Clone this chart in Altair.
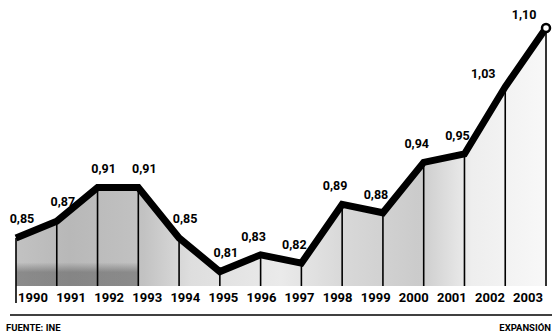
import altair as alt
import pandas as pd

# Annual series 1990-2003
years = [1990, 1991, 1992, 1993, 1994, 1995, 1996, 1997, 1998, 1999, 2000, 2001, 2002, 2003]
values = [0.85, 0.87, 0.91, 0.91, 0.85, 0.81, 0.83, 0.82, 0.89, 0.88, 0.94, 0.95, 1.03, 1.10]
year_labels = [str(y) for y in years]
value_labels = [f"{v:.2f}".replace(".", ",") for v in values]
source_note = "FUENTE: INE"
brand_note = "EXPANSIÓN"

df = pd.DataFrame({"year": years, "value": values, "label": value_labels, "ylabel": year_labels})

W, H = 552, 336
FONT = "Roboto"
Y_DOMAIN = [0.733333, 1.133333]
# value sitting on the pixel row where the shaded area and drop lines end
BASE_VALUE = Y_DOMAIN[0] + (H - 286) / H * (Y_DOMAIN[1] - Y_DOMAIN[0])

x_pts = alt.X("year:Q", axis=None, scale=alt.Scale(domain=[1989.6076, 2003.147], nice=False, zero=False))
x_lab = alt.X("year:Q", axis=None, scale=alt.Scale(domain=[1989.1333, 2003.630], nice=False, zero=False))
y = alt.Y("value:Q", axis=None, scale=alt.Scale(domain=Y_DOMAIN, nice=False, zero=False))
y_base = alt.Y2(datum=BASE_VALUE)

base = alt.Chart(df)

fill_grad = alt.Gradient(
    gradient="linear", x1=0, y1=0, x2=1, y2=0,
    stops=[
        alt.GradientStop(offset=0.00, color="#c2c2c2"),
        alt.GradientStop(offset=0.10, color="#b8b8b8"),
        alt.GradientStop(offset=0.24, color="#c2c2c2"),
        alt.GradientStop(offset=0.33, color="#dedede"),
        alt.GradientStop(offset=0.50, color="#eaeaea"),
        alt.GradientStop(offset=0.62, color="#d8d8d8"),
        alt.GradientStop(offset=0.76, color="#cbcbcb"),
        alt.GradientStop(offset=0.86, color="#eeeeee"),
        alt.GradientStop(offset=1.00, color="#f8f8f8"),
    ],
)
area = base.mark_area(color=fill_grad, opacity=1).encode(x=x_pts, y=y, y2=y_base)

# darker grain along the floor of the early years
shade_grad = alt.Gradient(
    gradient="linear", x1=0, y1=0, x2=0, y2=1,
    stops=[
        alt.GradientStop(offset=0.0, color="rgba(50,50,50,0)"),
        alt.GradientStop(offset=0.76, color="rgba(50,50,50,0)"),
        alt.GradientStop(offset=0.86, color="rgba(50,50,50,0.38)"),
        alt.GradientStop(offset=1.0, color="rgba(50,50,50,0.38)"),
    ],
)
shade = (
    base.transform_filter("datum.year <= 1993")
    .mark_area(color=shade_grad)
    .encode(x=x_pts, y=y, y2=y_base)
)

drops = (
    base.transform_filter("datum.year > 1990")
    .mark_rule(color="black", strokeWidth=1.6)
    .encode(x=x_pts, y=y, y2=y_base)
)
first_drop = (
    base.transform_filter("datum.year == 1990")
    .mark_rule(color="black", strokeWidth=1.6)
    .encode(x=x_pts, y=y, y2=alt.value(303))
)

line = base.mark_line(color="black", strokeWidth=7, strokeJoin="miter", strokeCap="butt").encode(x=x_pts, y=y)

end_point = (
    base.transform_filter("datum.year == 2003")
    .mark_point(shape="circle", size=64, filled=True, fill="white", stroke="black", strokeWidth=2.5, opacity=1)
    .encode(x=x_pts, y=y)
)

def value_text(cond, dx, dy):
    return (
        base.transform_filter(cond)
        .mark_text(font=FONT, fontWeight="bold", fontSize=12.5, color="black",
                   align="center", baseline="middle", dx=dx, dy=dy)
        .encode(x=x_pts, y=y, text="label:N")
    )

labels_left = value_text("datum.year <= 1995", 6, -19)
labels_mid = value_text("datum.year >= 1996 && datum.year <= 2001", -7, -18)
labels_right = value_text("datum.year >= 2002", -22, -13)

year_text = base.mark_text(
    font=FONT, fontWeight="bold", fontSize=13, color="black", align="center", baseline="middle"
).encode(x=x_lab, y=alt.value(298), text="ylabel:N")

footer = alt.Chart(pd.DataFrame({"k": [0]}))

bottom_rule = footer.mark_rule(color="black", strokeWidth=1.5).encode(
    x=alt.value(10), x2=alt.value(W), y=alt.value(315)
)

source = footer.mark_text(
    text=source_note, font=FONT, fontWeight="bold", fontSize=9.5, color="black", align="left", baseline="middle"
).encode(x=alt.value(6), y=alt.value(328))

brand = footer.mark_text(
    text=brand_note, font=FONT, fontWeight="bold", fontSize=9.5, color="black", align="right", baseline="middle"
).encode(x=alt.value(551), y=alt.value(328))

chart = (
    alt.layer(area, shade, drops, first_drop, line, end_point,
              labels_left, labels_mid, labels_right, year_text, bottom_rule, source, brand)
    .resolve_scale(x="independent")
    .properties(width=W, height=H, padding=0, autosize=alt.AutoSizeParams(type="none"), background="white")
    .configure_view(stroke=None)
)

chart.save("out.html", embed_options={"renderer": "svg", "actions": False})
